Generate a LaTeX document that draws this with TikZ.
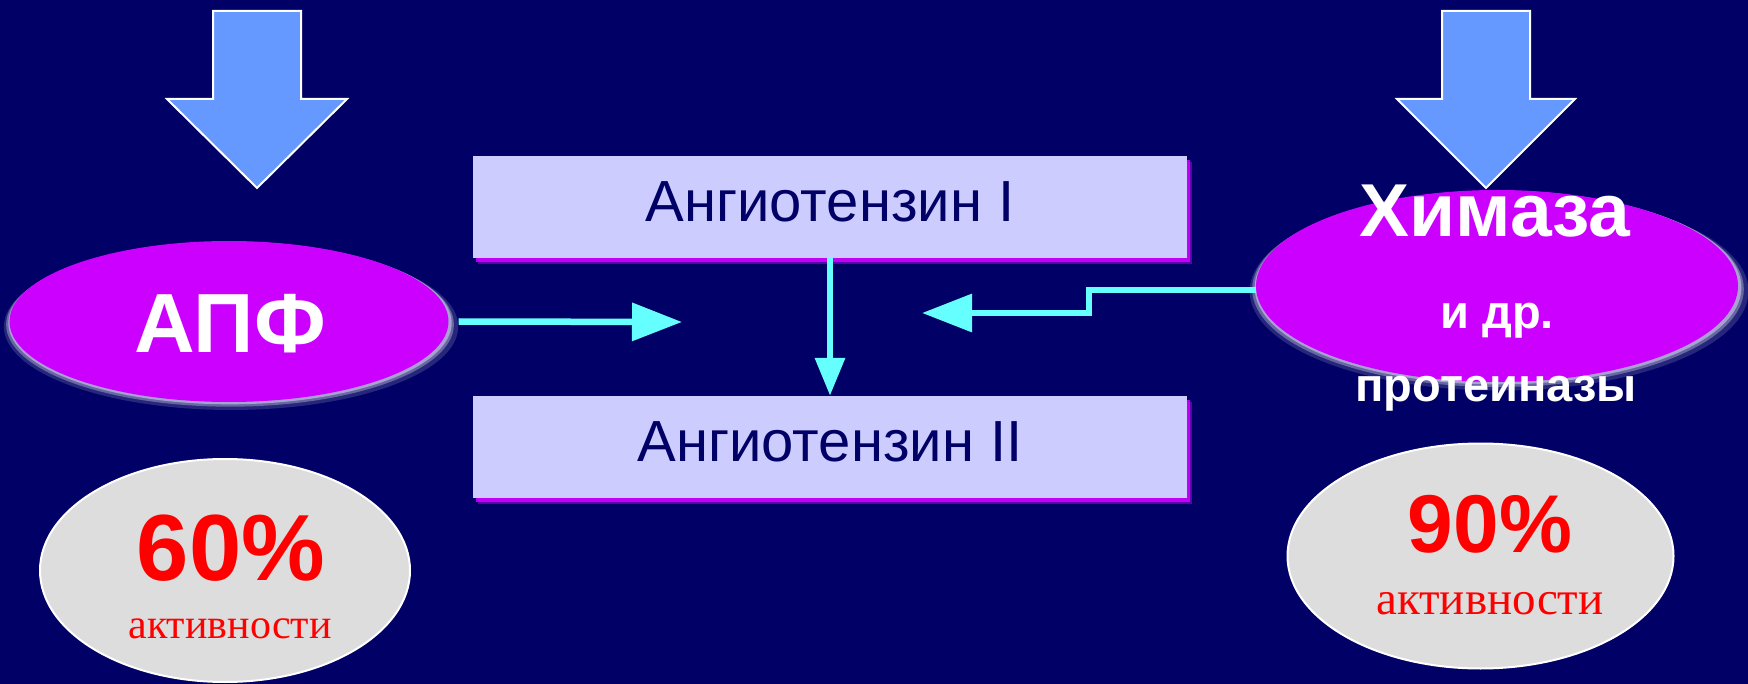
\documentclass[tikz,border=0pt]{standalone}
\usepackage{fontspec}
\setmainfont{Liberation Sans}
\newfontfamily\serifru{Liberation Serif}
\usetikzlibrary{shapes.geometric,arrows.meta,shadows}
\definecolor{bgnavy}{HTML}{000066}
\definecolor{purp}{HTML}{CC00FF}
\definecolor{arrblue}{HTML}{6699FF}
\definecolor{boxfill}{HTML}{CCCCFF}
\definecolor{cyanl}{HTML}{66FFFF}
\definecolor{grayfill}{HTML}{DDDDDD}
\definecolor{redtxt}{HTML}{FF0000}
\definecolor{glowc}{HTML}{E8DDFF}
\tikzset{
  fatarrow/.style={fill=arrblue, draw=white, line width=2pt, line join=miter},
  enzyme/.style={ellipse, fill=purp, inner sep=0pt,
    general shadow={shadow scale=1.035, shadow xshift=2pt, shadow yshift=-5pt, fill=white, opacity=0.15},
    general shadow={shadow scale=1.02, shadow xshift=1pt, shadow yshift=-3pt, fill=white, opacity=0.3},
    general shadow={shadow scale=1.01, shadow xshift=1pt, shadow yshift=-1.5pt, fill=glowc, opacity=0.5}},
  pctell/.style={ellipse, fill=grayfill, draw=white, line width=2pt, inner sep=0pt},
  angbox/.style={rectangle, fill=boxfill, inner sep=0pt, text=bgnavy,
    font=\fontsize{58}{60}\selectfont, text height=43pt, text depth=14pt,
    general shadow={shadow xshift=5pt, shadow yshift=-6pt, fill=purp, opacity=0.45},
    general shadow={shadow xshift=3pt, shadow yshift=-4pt, fill=purp, opacity=0.9}},
  wtxt/.style={anchor=base, inner sep=0pt, text=white, font=\bfseries\fontsize{#1}{#1}\selectfont},
  pcttxt/.style={anchor=base, inner sep=0pt, text=redtxt, font=\bfseries\fontsize{#1}{#1}\selectfont},
  acttxt/.style={anchor=base, inner sep=0pt, text=redtxt, font=\serifru\fontsize{#1}{#1}\selectfont},
  flow/.style={draw=cyanl, line width=6.5pt},
  hhead/.style={-{Triangle[length=50pt,width=37pt]}},
  vhead/.style={-{Triangle[length=38pt,width=29pt]}}
}
\begin{document}
\begin{tikzpicture}[x=1pt,y=-1pt]
\fill[bgnavy] (0,0) rectangle (1748,684);
\useasboundingbox (0,0) rectangle (1748,684);

% left big arrow
\draw[fatarrow] (213,11) -- (301,11) -- (301,99) -- (347,99) -- (257,188) -- (167,99) -- (213,99) -- cycle;

% APF
\node[enzyme, minimum width=439pt, minimum height=161pt] (apf) at (229,321.5) {};
\node[wtxt=84] (apft) at (230,353) {АПФ};

% Khimaza ellipse
\node[enzyme, minimum width=482pt, minimum height=192pt] (khim) at (1497,286) {};
% right big arrow
\draw[fatarrow] (1442,11) -- (1530,11) -- (1530,99) -- (1575,99) -- (1486,188) -- (1397,99) -- (1442,99) -- cycle;
\node[wtxt=75] (kh1) at (1495,237) {Химаза};
\node[wtxt=47] (kh2) at (1497,329) {и др.};
\node[wtxt=47] (kh3) at (1496,402) {протеиназы};

% angiotensin boxes
\node[angbox, minimum width=714pt, minimum height=102pt] (a1) at (830,207) {Ангиотензин I};
\node[angbox, minimum width=714pt, minimum height=102pt] (a2) at (830,447) {Ангиотензин II};

% percentage ellipses
\node[pctell, minimum width=370pt, minimum height=223pt] (p60) at (225,570.5) {};
\node[pcttxt=94] (p60t) at (231,580) {60\%};
\node[acttxt=42] (p60a) at (230,638) {активности};
\node[pctell, minimum width=386pt, minimum height=225pt] (p90) at (1480.5,556) {};
\node[pcttxt=82] (p90t) at (1490,552) {90\%};
\node[acttxt=47] (p90a) at (1490,614) {активности};

% connectors
\coordinate (ltip) at (682,322);
\draw[flow, hhead] ([xshift=10pt]apf.east) -- (ltip);
\draw[flow, vhead] (a1.south) -- (a2.north);
\coordinate (kc1) at (1089,290);
\coordinate (kc2) at (1089,313);
\coordinate (rtip) at (922,313);
\draw[flow, hhead, line join=miter] (khim.west |- kc1) -- (kc1) -- (kc2) -- (rtip);
\end{tikzpicture}
\end{document}
